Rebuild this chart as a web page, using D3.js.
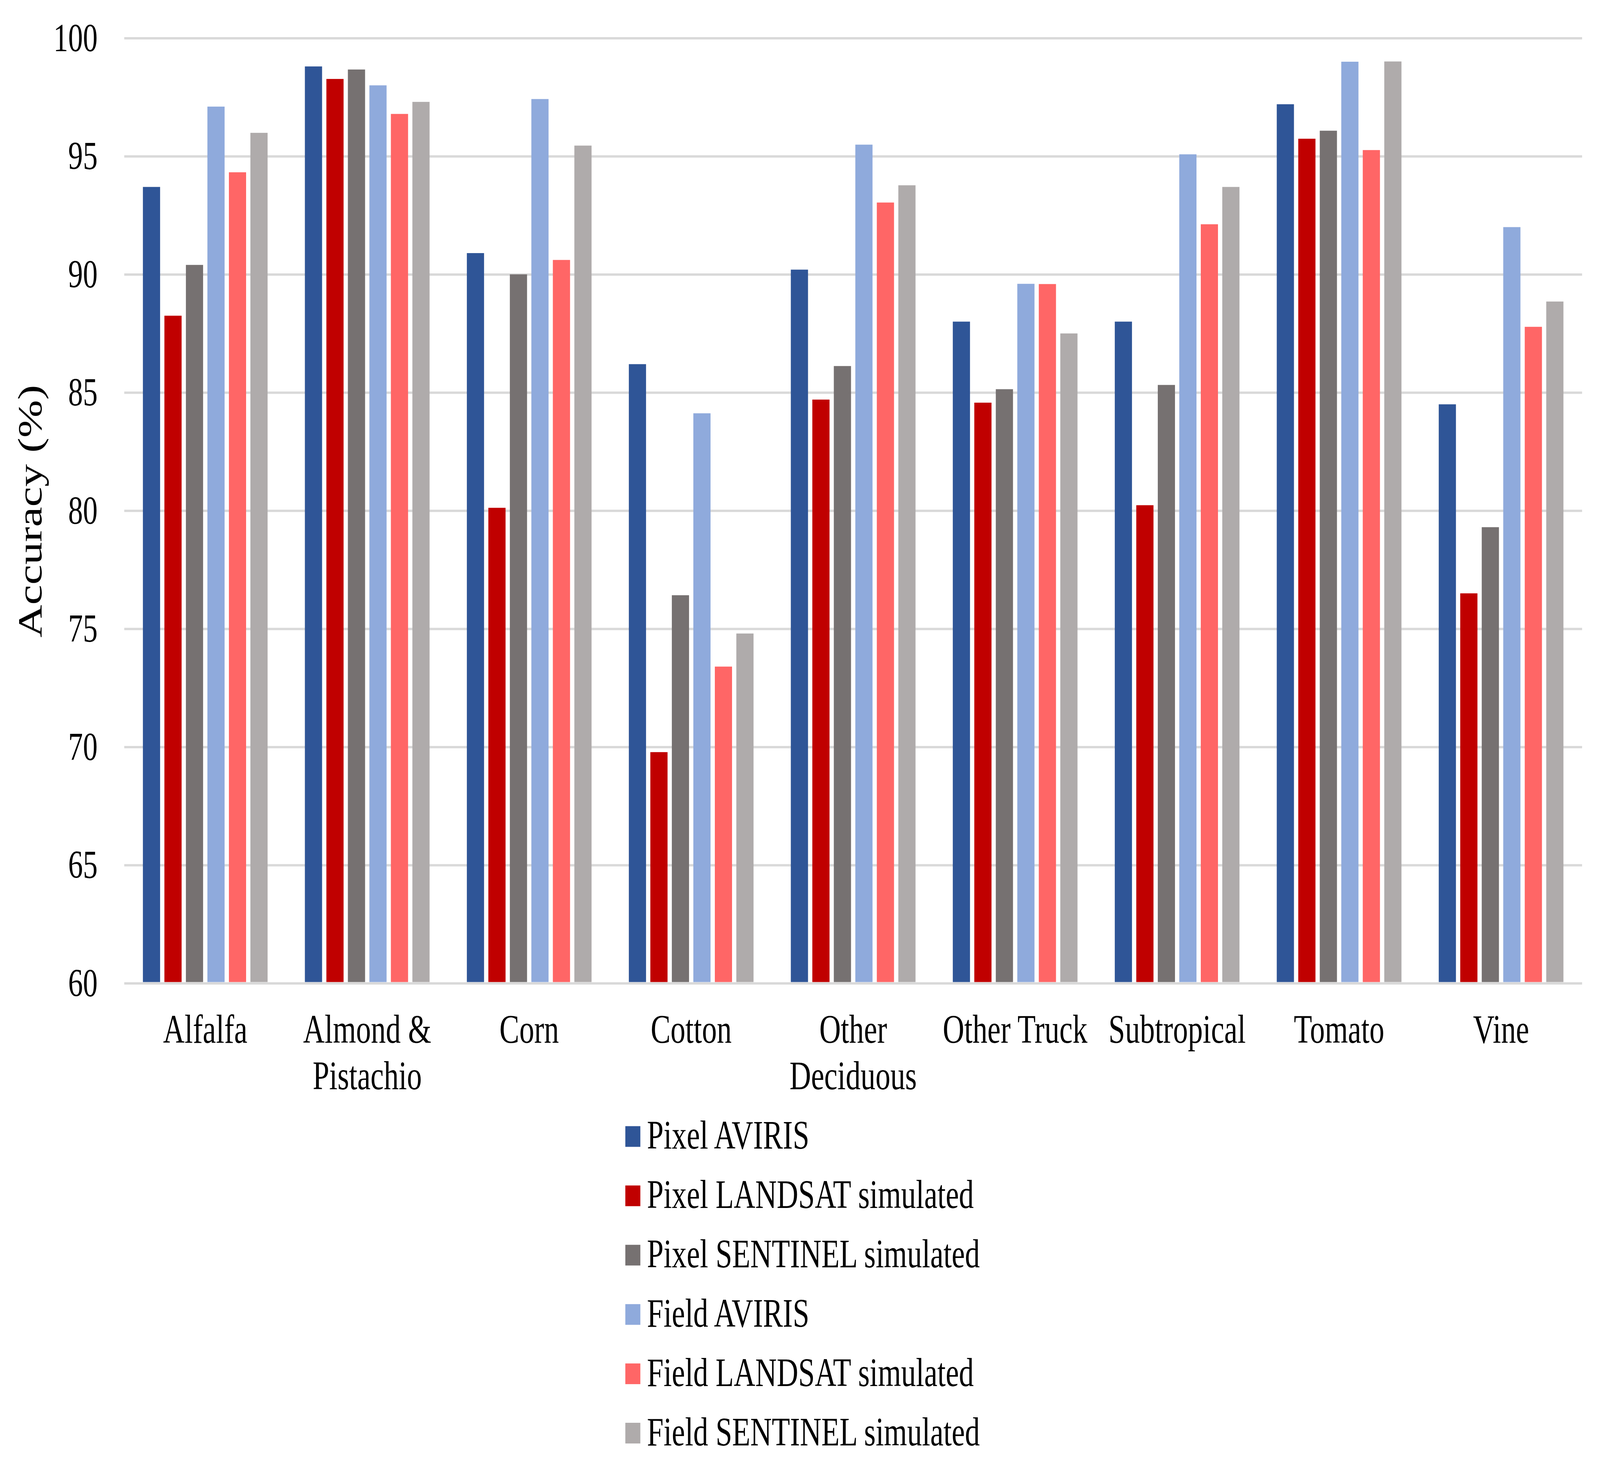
<!DOCTYPE html>
<html>
<head>
<meta charset="utf-8">
<script src="https://cdn.jsdelivr.net/npm/d3@7"></script>
<style>
  html, body { margin: 0; padding: 0; background: #fff; overflow: hidden; }
  #chart svg { display: block; width: 100vw; height: 100vh; }
  text { font-family: "Liberation Serif", "Times New Roman", serif; fill: #000; }
</style>
</head>
<body>
<div id="chart"></div>
<script>
// crop classes on the x axis (a "\n" splits the label on two lines)
const categories = ["Alfalfa", "Almond &\nPistachio", "Corn", "Cotton", "Other\nDeciduous",
  "Other Truck", "Subtropical", "Tomato", "Vine"];

const seriesNames = ["Pixel AVIRIS", "Pixel LANDSAT simulated", "Pixel SENTINEL simulated",
  "Field AVIRIS", "Field LANDSAT simulated", "Field SENTINEL simulated"];

const seriesColors = ["#2F5597", "#C00000", "#767171", "#8FAADC", "#FF6666", "#AFABAB"];

// accuracy (%) per series, one value per category
const pixelAviris   = [93.7, 98.8, 90.9, 86.2, 90.2, 88.0, 88.0, 97.2, 84.5];
const pixelLandsat  = [88.25, 98.27, 80.12, 69.78, 84.7, 84.57, 80.23, 95.74, 76.5];
const pixelSentinel = [90.4, 98.67, 90.0, 76.42, 86.12, 85.14, 85.32, 96.08, 79.3];
const fieldAviris   = [97.1, 98.0, 97.42, 84.12, 95.49, 89.6, 95.08, 99.0, 92.0];
const fieldLandsat  = [94.32, 96.79, 90.61, 73.4, 93.04, 89.59, 92.12, 95.26, 87.78];
const fieldSentinel = [95.99, 97.3, 95.45, 74.8, 93.77, 87.5, 93.7, 99.01, 88.85];

const yTicks = [60, 65, 70, 75, 80, 85, 90, 95, 100];

const allSeries = [pixelAviris, pixelLandsat, pixelSentinel, fieldAviris, fieldLandsat, fieldSentinel];

const config = {
  width: 5537,
  height: 3746,
  margin: { top: 97.5, right: 62, bottom: 1228.5, left: 430 }
};

const innerW = config.width - config.margin.left - config.margin.right;
const innerH = config.height - config.margin.top - config.margin.bottom;

// drawing is laid out in a 5537x3746 box and stretched onto the viewport
const svg = d3.select("#chart")
  .append("svg")
  .attr("viewBox", `0 0 ${config.width} ${config.height}`)
  .attr("preserveAspectRatio", "none");

svg.append("rect")
  .attr("width", config.width)
  .attr("height", config.height)
  .attr("fill", "#fff");

const chart = svg.append("g")
  .attr("transform", `translate(${config.margin.left},${config.margin.top})`);

// scales
const x0 = d3.scaleBand().domain(categories).range([0, innerW]).padding(0);
const x1 = d3.scaleBand().domain(seriesNames).range([0, x0.bandwidth()])
  .paddingInner(0.2).paddingOuter(0.867);
const y = d3.scaleLinear().domain([60, 100]).range([innerH, 0]);
const colour = d3.scaleOrdinal().domain(seriesNames).range(seriesColors);

// y axis with gridlines
const yAxis = d3.axisLeft(y)
  .tickValues(yTicks)
  .tickSize(-innerW)
  .tickPadding(92)
  .tickFormat(d3.format("d"));

const yAxisG = chart.append("g").attr("class", "y-axis").call(yAxis);
yAxisG.select(".domain").remove();
yAxisG.selectAll(".tick line")
  .attr("stroke", "#d9d9d9")
  .attr("stroke-width", 6);
yAxisG.selectAll(".tick text")
  .style("font-size", "102px")
  .style("font-family", "'Liberation Serif', 'Times New Roman', serif")
  .attr("fill", "#000");

// bars
const table = categories.map((c, i) => ({
  category: c,
  values: seriesNames.map((s, j) => ({ series: s, value: allSeries[j][i] }))
}));

const groups = chart.selectAll(".group")
  .data(table)
  .join("g")
  .attr("class", "group")
  .attr("transform", d => `translate(${x0(d.category)},0)`);

groups.selectAll("rect")
  .data(d => d.values)
  .join("rect")
  .attr("x", d => x1(d.series))
  .attr("y", d => y(d.value))
  .attr("width", x1.bandwidth())
  .attr("height", d => y(60) - y(d.value) - 3)
  .attr("fill", d => colour(d.series));

// x category labels
const xLabels = chart.append("g").attr("class", "x-labels");
categories.forEach(c => {
  const t = xLabels.append("text")
    .attr("text-anchor", "middle")
    .attr("x", x0(c) + x0.bandwidth() / 2)
    .attr("y", innerH + 152.5)
    .style("font-size", "103px");
  c.split("\n").forEach((line, i) => {
    t.append("tspan")
      .attr("x", x0(c) + x0.bandwidth() / 2)
      .attr("dy", i === 0 ? 0 : 119)
      .text(line);
  });
});

// y axis title
svg.append("text")
  .attr("transform", `translate(143.5,1309) rotate(-90)`)
  .attr("text-anchor", "middle")
  .style("font-size", "116px")
  .text("Accuracy (%)");

// legend
const legend = svg.append("g")
  .attr("class", "legend")
  .attr("transform", "translate(2164,2910)");

const legendRows = legend.selectAll(".legend-row")
  .data(seriesNames)
  .join("g")
  .attr("class", "legend-row")
  .attr("transform", (d, i) => `translate(0,${i * 151.9})`);

legendRows.append("rect")
  .attr("x", 0)
  .attr("y", -26.5)
  .attr("width", 52)
  .attr("height", 53)
  .attr("fill", d => colour(d));

legendRows.append("text")
  .attr("x", 75)
  .attr("y", 31)
  .style("font-size", "103px")
  .text(d => d);
</script>
</body>
</html>
